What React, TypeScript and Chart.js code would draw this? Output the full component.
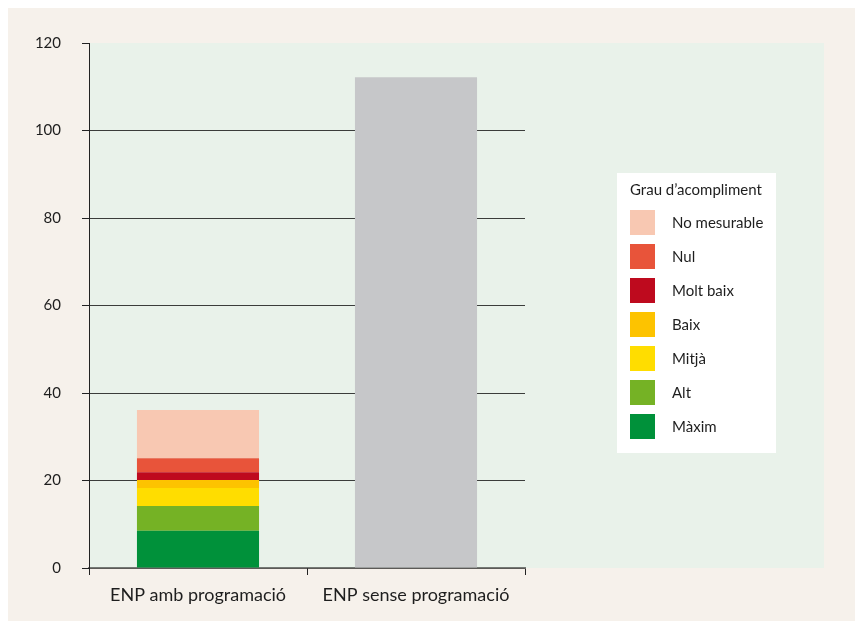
import React, { useEffect, useRef } from "react";
import { Chart, registerables } from "chart.js";

Chart.register(...registerables);

const categories = ["ENP amb programació", "ENP sense programació"];
const levelNames = ["Màxim", "Alt", "Mitjà", "Baix", "Molt baix", "Nul", "No mesurable"];
const levelColors = ["#00913a", "#75b225", "#ffdd00", "#fdc300", "#be0a1e", "#e8543a", "#f8c8b2"];
const levelValues = [8.5, 5.7, 4.1, 1.8, 1.8, 3.2, 11.0];
const totalSenseValue = 112.2;
const grayColor = "#c6c7c9";
const legendTitle = "Grau d\u2019acompliment";
const yTicks = [0, 20, 40, 60, 80, 100, 120];

const FONT = "Lato, 'Open Sans', sans-serif";
const W = 855;
const H = 621;

export default function App() {
  const ref = useRef<HTMLCanvasElement | null>(null);

  useEffect(() => {
    const canvas = ref.current;
    if (!canvas) return;
    document.body.style.margin = "0";
    document.body.style.overflow = "hidden";
    document.documentElement.style.overflow = "hidden";

    const datasets: any[] = levelNames.map((name, i) => ({
      label: name,
      data: [levelValues[i], null],
      backgroundColor: levelColors[i],
      stack: "s",
      borderWidth: 0,
    }));
    datasets.push({
      label: "Total",
      data: [null, totalSenseValue],
      backgroundColor: grayColor,
      stack: "s",
      borderWidth: 0,
    });

    const bgPlugin = {
      id: "bg",
      beforeDraw(chart: any) {
        const { ctx, chartArea } = chart;
        ctx.save();
        ctx.fillStyle = "#ffffff";
        ctx.fillRect(0, 0, chart.width, chart.height);
        ctx.fillStyle = "#f6f1eb";
        ctx.fillRect(8, 8, chart.width - 8, chart.height - 8);
        ctx.fillStyle = "#e9f2ea";
        ctx.fillRect(chartArea.left, chartArea.top, 824 - chartArea.left, chartArea.bottom - chartArea.top);
        ctx.restore();
      },
      afterDraw(chart: any) {
        const { ctx } = chart;
        ctx.save();
        const bx = 617, by = 173, bw = 159, bh = 280;
        ctx.fillStyle = "#ffffff";
        ctx.fillRect(bx, by, bw, bh);
        ctx.fillStyle = "#1e1e1e";
        ctx.font = `15px ${FONT}`;
        ctx.textBaseline = "middle";
        ctx.textAlign = "left";
        ctx.fillText(legendTitle, 630, 190);
        const order = levelNames.map((_, i) => levelNames.length - 1 - i);
        order.forEach((idx, row) => {
          const top = 210 + row * 34;
          ctx.fillStyle = levelColors[idx];
          ctx.fillRect(630, top, 25, 25);
          ctx.fillStyle = "#1e1e1e";
          ctx.fillText(levelNames[idx], 672, top + 13);
        });
        ctx.restore();
      },
    };

    const chart = new Chart(canvas, {
      type: "bar",
      data: { labels: categories, datasets },
      options: {
        animation: false,
        responsive: false,
        maintainAspectRatio: false,
        layout: { padding: { top: 43, right: 330, left: 0, bottom: 0 } },
        plugins: { legend: { display: false }, tooltip: { enabled: false } },
        datasets: { bar: { categoryPercentage: 1, barPercentage: 0.56 } },
        scales: {
          x: {
            stacked: true,
            z: 1,
            grid: {
              offset: true,
              drawOnChartArea: false,
              tickLength: 7,
              tickColor: "#222222",
              color: "#222222",
            },
            border: { display: true, color: "rgba(0,0,0,0.5)", width: 1.5 },
            ticks: {
              color: "#1e1e1e",
              font: { family: FONT, size: 18 },
              padding: 9,
              maxRotation: 0,
            },
            afterFit(scale: any) {
              scale.height = 53;
            },
          },
          y: {
            stacked: true,
            min: 0,
            max: 120,
            z: 1,
            afterBuildTicks(scale: any) {
              scale.ticks = yTicks.map((v) => ({ value: v }));
            },
            grid: {
              tickLength: 7,
              color: (c: any) =>
                c.tick && c.tick.value === 120
                  ? "rgba(0,0,0,0)"
                  : c.tick && c.tick.value === 0
                  ? "rgba(0,0,0,0.5)"
                  : "rgba(0,0,0,0.75)",
              tickColor: "#222222",
              lineWidth: 1,
            },
            border: { display: true, color: "#222222", width: 1 },
            ticks: {
              color: "#1e1e1e",
              font: { family: FONT, size: 15 },
              padding: 21,
            },
            afterFit(scale: any) {
              scale.width = 89;
            },
          },
        },
      },
      plugins: [bgPlugin],
    });

    return () => chart.destroy();
  }, []);

  return (
    <div style={{ width: W, height: H }}>
      <canvas ref={ref} width={W} height={H} style={{ width: W, height: H, display: "block" }} />
    </div>
  );
}
